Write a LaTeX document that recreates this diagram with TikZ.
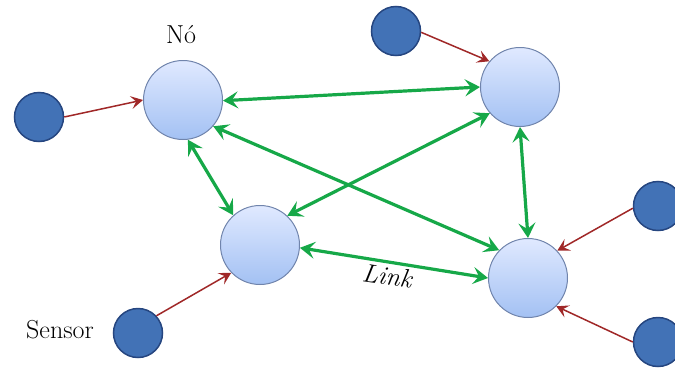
\documentclass[tikz,border=0pt]{standalone}
\usetikzlibrary{arrows.meta}
\definecolor{linkgreen}{RGB}{22,168,72}
\definecolor{feedred}{RGB}{160,40,40}
\definecolor{sensorblue}{RGB}{66,114,182}
\definecolor{sensoredge}{RGB}{38,70,128}
\definecolor{nodetop}{RGB}{224,233,255}
\definecolor{nodebottom}{RGB}{163,193,243}
\definecolor{nodeedge}{RGB}{112,132,172}
\tikzset{
  netnode/.style={circle,draw=nodeedge,line width=1pt,top color=nodetop,bottom color=nodebottom,minimum size=79pt,inner sep=0pt},
  sensor/.style={circle,draw=sensoredge,line width=1.5pt,fill=sensorblue,minimum size=49pt,inner sep=0pt},
  link/.style={linkgreen,line width=3.2pt,{Stealth[length=15pt,width=17pt,inset=6pt]}-{Stealth[length=15pt,width=17pt,inset=6pt]}},
  feed/.style={feedred,line width=1.5pt,-{Stealth[length=12pt,width=13pt,inset=5pt]}},
  txt/.style={font=\fontsize{26}{30}\selectfont,inner sep=0pt,anchor=base}
}
\begin{document}
\begin{tikzpicture}[x=1pt,y=1pt,yscale=-1,xscale=1]
  %set diagram left start at 0, and has height of 367
  \useasboundingbox (0,0) rectangle (675,367);

  %Shape: Circle (nodes of the network)
  \node [netnode] (noA) at (183,100) {};
  \node [netnode] (noB) at (520,87) {};
  \node [netnode] (noC) at (260,245) {};
  \node [netnode] (noD) at (528,278) {};

  %Shape: Circle (sensors)
  \node [sensor] (senA) at (39,117) {};
  \node [sensor] (senB) at (396,31) {};
  \node [sensor] (senC) at (658,206) {};
  \node [sensor] (senD) at (658,342) {};
  \node [sensor] (senE) at (138,333) {};

  % Text Node
  \node [txt] (tNo) at (181,43) {N\'o};
  % Text Node
  \node [txt] (tSensor) at (60,338) {Sensor};
  % Text Node
  \node [txt,rotate=-8] (tLink) at (386,285) {\itshape Link};

  %Links between nodes
  \draw [link] (noA.-1) -- (noB.180);
  \draw [link] (noA.-41) -- (noD.136);
  \draw [link] (noA.-83) -- (noC.132);
  \draw [link] (noB.-139) -- (noC.47);
  \draw [link] (noB.-90) -- (noD.90);
  \draw [link] (noC.-4) -- (noD.180);

  %Sensors to nodes
  \draw [feed] (senA.east) -- (noA.180);
  \draw [feed] (senB.-3) -- (noB.140);
  \draw [feed] (senC.185) -- (noD.43);
  \draw [feed] (senD.180) -- (noD.-45);
  \draw [feed] (senE.43) -- (noC.-136);
\end{tikzpicture}
\end{document}
